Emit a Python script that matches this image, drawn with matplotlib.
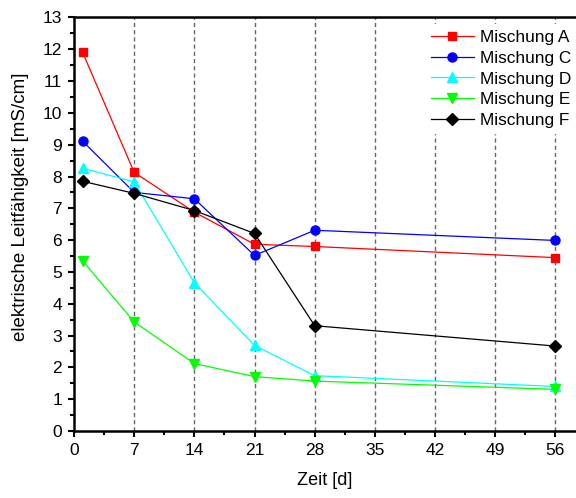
import matplotlib
matplotlib.use("Agg")
import matplotlib.pyplot as plt
from matplotlib.ticker import MultipleLocator

plt.rcParams['font.family'] = ['Liberation Sans', 'DejaVu Sans']

days = [1, 7, 14, 21, 28, 56]
mischung_a = [11.9, 8.13, 6.88, 5.87, 5.8, 5.45]
mischung_c = [9.11, 7.5, 7.3, 5.52, 6.31, 5.99]
mischung_d = [8.26, 7.83, 4.66, 2.69, 1.74, 1.4]
mischung_e = [5.35, 3.43, 2.12, 1.71, 1.57, 1.31]
mischung_f = [7.85, 7.47, 6.93, 6.21, 3.31, 2.67]

labels = ["Mischung A", "Mischung C", "Mischung D", "Mischung E", "Mischung F"]
series = [mischung_a, mischung_c, mischung_d, mischung_e, mischung_f]
colors = ["#ff0000", "#0000ff", "#00ffff", "#00ff00", "#000000"]
markers = ["s", "o", "^", "v", "D"]
msizes = [6, 6.5, 7, 7, 6]

x_ticks = [0, 7, 14, 21, 28, 35, 42, 49, 56]

fig = plt.figure(figsize=(5.76, 4.98), dpi=100)
ax = fig.add_axes([0.1285, 0.1345, 0.8715, 0.8305])

for xv in x_ticks[1:]:
    ax.axvline(xv, color="#666666", linestyle=(0, (3, 2.2)), linewidth=1, zorder=1)

for vals, lab, c, m, ms in zip(series, labels, colors, markers, msizes):
    ax.plot(days, vals, color=c, marker=m, markersize=ms, linewidth=0.9,
            label=lab, zorder=3)

ax.set_xlim(0, 58.4)
ax.set_ylim(0, 13)
ax.set_xticks(x_ticks)
ax.xaxis.set_minor_locator(MultipleLocator(3.5))
ax.yaxis.set_major_locator(MultipleLocator(1))
ax.yaxis.set_minor_locator(MultipleLocator(0.5))
ax.tick_params(which="major", direction="out", length=4.5, width=1.5,
               labelsize=12.5, pad=4)
ax.tick_params(which="minor", direction="out", length=3, width=1.5)

for side in ("left", "bottom", "top"):
    ax.spines[side].set_linewidth(1.8)
ax.spines["right"].set_visible(False)

ax.set_xlabel("Zeit [d]", fontsize=13, labelpad=10)
ax.set_ylabel("elektrische Leitfähigkeit [mS/cm]", fontsize=13.5)
ax.yaxis.set_label_coords(-0.09, 0.543)

leg = ax.legend(loc="upper right", bbox_to_anchor=(1.0, 0.983),
                fontsize=12.4, frameon=True, fancybox=False,
                edgecolor="white", framealpha=1, handlelength=2.5,
                borderpad=0.3, labelspacing=0.34, handletextpad=0.35,
                borderaxespad=0.0)
leg.set_zorder(5)

fig.savefig("out.png", dpi=100)
